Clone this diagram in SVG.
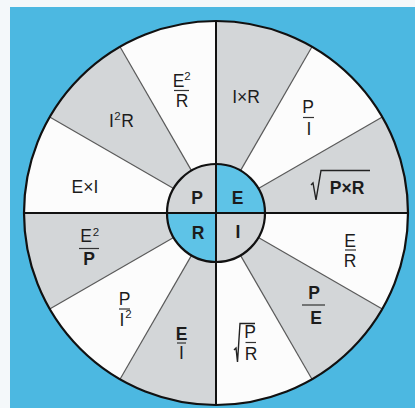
<svg xmlns="http://www.w3.org/2000/svg" width="415" height="408" viewBox="0 0 415 408">
<style>
.t{font-family:"Liberation Sans",Arial,sans-serif;font-size:17.5px;fill:#1c1c1c;text-anchor:middle}
.b{font-weight:bold}
.s{font-size:11.5px}
.bar{stroke:#333;stroke-width:1.2}
.rad{stroke:#5a5a5a;stroke-width:1.2}
.ax{stroke:#111;stroke-width:2}
.gray{fill:#d3d6d8}
.blue{fill:#5ec3e7}
</style>
<rect x="0" y="0" width="415" height="408" fill="#f4f8fa"/>
<rect x="10" y="7" width="405" height="401" fill="#4cb8e1"/>
<g id="wheel">
<circle cx="216" cy="213" r="192" fill="#fcfcfc"/>
<path class="gray" d="M216,213 L312,46.7 A192,192 0 0 0 216,21 Z"/>
<path class="gray" d="M216,213 L408,213 A192,192 0 0 0 382.3,117 Z"/>
<path class="gray" d="M216,213 L312,379.3 A192,192 0 0 0 382.3,309 Z"/>
<path class="gray" d="M216,213 L120,379.3 A192,192 0 0 0 216,405 Z"/>
<path class="gray" d="M216,213 L24,213 A192,192 0 0 0 49.7,309 Z"/>
<path class="gray" d="M216,213 L120,46.7 A192,192 0 0 0 49.7,117 Z"/>
</g>
<g id="connectors">
<line class="rad" x1="258.4" y1="188.5" x2="382.3" y2="117"/>
<line class="rad" x1="240.5" y1="170.6" x2="312" y2="46.7"/>
<line class="rad" x1="191.5" y1="170.6" x2="120" y2="46.7"/>
<line class="rad" x1="173.6" y1="188.5" x2="49.7" y2="117"/>
<line class="rad" x1="173.6" y1="237.5" x2="49.7" y2="309"/>
<line class="rad" x1="191.5" y1="255.4" x2="120" y2="379.3"/>
<line class="rad" x1="240.5" y1="255.4" x2="312" y2="379.3"/>
<line class="rad" x1="258.4" y1="237.5" x2="382.3" y2="309"/>
<line class="ax" x1="24" y1="213" x2="408" y2="213"/>
<line class="ax" x1="216" y1="21" x2="216" y2="405"/>
<circle cx="216" cy="213" r="192" fill="none" stroke="#111" stroke-width="2.2"/>
</g>
<g id="center">
<path class="gray" d="M216,213 L167,213 A49,49 0 0 1 216,164 Z"/>
<path class="blue" d="M216,213 L216,164 A49,49 0 0 1 265,213 Z"/>
<path class="blue" d="M216,213 L167,213 A49,49 0 0 0 216,262 Z"/>
<path class="gray" d="M216,213 L216,262 A49,49 0 0 0 265,213 Z"/>
<line class="ax" x1="167" y1="213" x2="265" y2="213"/>
<line class="ax" x1="216" y1="164" x2="216" y2="262"/>
<circle cx="216" cy="213" r="49" fill="none" stroke="#111" stroke-width="2.2"/>
<text class="t b" x="197" y="203.5">P</text>
<text class="t b" x="237.5" y="203.5">E</text>
<text class="t b" x="198" y="238.5">R</text>
<text class="t b" x="238" y="237.5">I</text>
</g>
<g id="s-ixr"><text class="t" x="246" y="103">I×R</text></g>
<g id="s-p-i">
<text class="t" x="308" y="113">P</text>
<line class="bar" x1="303" y1="117.5" x2="314" y2="117.5"/>
<text class="t" x="309" y="135">I</text>
</g>
<g id="s-sqrt-pxr">
<path d="M311,185 L313,183 L316,200 L321,170.5 L370,170.5" fill="none" stroke="#222" stroke-width="1.4"/>
<text class="t b" x="347" y="193.5">P×R</text>
</g>
<g id="s-e-r">
<text class="t" x="350" y="247">E</text>
<line class="bar" x1="345" y1="250" x2="356" y2="250"/>
<text class="t" x="350" y="266.5">R</text>
</g>
<g id="s-p-e">
<text class="t b" x="314" y="299">P</text>
<line class="bar" x1="302" y1="305" x2="325" y2="305"/>
<text class="t b" x="316" y="324">E</text>
</g>
<g id="s-sqrt-p-r">
<path d="M234,350 L236,348 L237.5,362 L240,323.5 L255,323.5" fill="none" stroke="#222" stroke-width="1.4"/>
<text class="t" x="250" y="338">P</text>
<line class="bar" x1="245.5" y1="342.5" x2="256" y2="342.5"/>
<text class="t" x="251" y="359.5">R</text>
</g>
<g id="s-e-i">
<text class="t b" x="181.5" y="340">E</text>
<line class="bar" x1="177" y1="343" x2="186" y2="343"/>
<text class="t" x="181.5" y="358.5">I</text>
</g>
<g id="s-p-i2">
<text class="t" x="124.5" y="305">P</text>
<line class="bar" x1="119" y1="309" x2="130" y2="309"/>
<text class="t" x="122" y="325.5">I</text>
<text class="t s" x="128.5" y="318">2</text>
</g>
<g id="s-e2-p">
<text class="t" x="86" y="242">E</text>
<text class="t s" x="96" y="236">2</text>
<line class="bar" x1="79" y1="248.5" x2="99" y2="248.5"/>
<text class="t b" x="89" y="264.5">P</text>
</g>
<g id="s-exi"><text class="t" x="85" y="193" fill="#333">E×I</text></g>
<g id="s-i2r">
<text class="t" x="111.5" y="127">I</text>
<text class="t s" x="117.5" y="120">2</text>
<text class="t" x="127.5" y="127">R</text>
</g>
<g id="s-e2-r">
<text class="t" x="178.5" y="87">E</text>
<text class="t s" x="187.5" y="80">2</text>
<line class="bar" x1="174" y1="90.5" x2="189" y2="90.5"/>
<text class="t" x="182" y="106.5">R</text>
</g>
</svg>
